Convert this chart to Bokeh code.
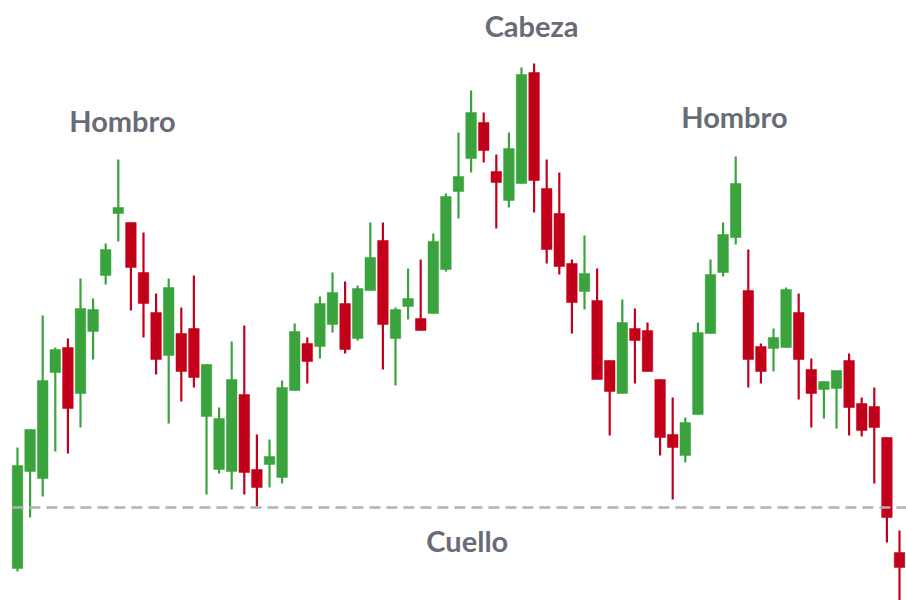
from bokeh.plotting import figure
from bokeh.models import Range1d, ColumnDataSource
from bokeh.core.properties import value
from bokeh.embed import file_html
from bokeh.resources import INLINE

# Candle data (price units)
opens = [3.2, 12.9, 12.2, 22.8, 25.3, 20.7, 26.9, 32.5, 38.7, 37.8,
         32.8, 28.8, 24.5, 26.7, 27.2, 18.4, 13.1, 12.9, 20.6, 13.1,
         13.6, 12.3, 21.0, 25.7, 25.4, 27.6, 29.7, 26.2, 31.0, 36.0,
         26.2, 29.4, 28.2, 28.7, 33.1, 40.9, 44.2, 47.8, 42.9, 40.0,
         41.7, 52.8, 41.2, 38.7, 33.7, 30.9, 30.0, 24.0, 20.7, 27.2,
         27.0, 22.1, 16.6, 14.5, 18.6, 26.7, 32.8, 36.3, 31.0, 25.4,
         25.2, 25.3, 28.8, 23.1, 21.1, 21.2, 24.0, 19.7, 19.4, 16.3, 4.8]
highs = [15.3, 17.1, 28.5, 25.3, 26.2, 32.2, 30.2, 35.7, 44.1, 37.8,
         36.8, 30.7, 32.2, 29.3, 32.5, 23.6, 19.3, 25.9, 27.5, 16.6,
         16.1, 22.0, 27.7, 26.3, 30.4, 32.8, 31.9, 31.5, 37.8, 37.8,
         29.3, 33.2, 34.1, 36.7, 40.7, 46.8, 51.0, 48.8, 44.6, 46.8,
         53.3, 53.7, 44.1, 42.8, 34.1, 36.5, 33.2, 24.0, 30.1, 29.2,
         27.8, 22.1, 20.3, 18.3, 27.8, 34.1, 37.8, 44.4, 35.1, 25.7,
         27.2, 31.3, 30.7, 24.2, 21.9, 23.0, 24.7, 20.3, 21.3, 16.3, 7.0]
lows = [2.9, 8.3, 10.4, 14.9, 14.7, 17.3, 24.1, 31.6, 35.9, 29.0,
        26.3, 22.6, 17.7, 19.9, 21.3, 10.6, 12.7, 11.1, 10.6, 9.4,
        11.3, 11.7, 21.0, 21.7, 24.2, 26.8, 24.7, 26.0, 31.0, 23.1,
        21.5, 28.1, 27.0, 28.7, 32.9, 38.2, 42.8, 43.8, 37.2, 39.3,
        41.7, 38.8, 33.7, 32.6, 26.7, 29.1, 22.1, 16.5, 20.7, 21.7,
        22.9, 14.5, 10.1, 13.8, 18.6, 26.7, 32.4, 35.6, 21.3, 21.7,
        22.9, 25.3, 20.1, 17.3, 18.2, 17.2, 16.5, 16.4, 11.7, 5.8, -0.5]
closes = [13.5, 17.1, 22.0, 25.1, 19.2, 29.2, 29.1, 35.1, 39.3, 33.3,
          29.7, 24.1, 31.3, 22.9, 22.3, 23.6, 18.2, 22.1, 12.8, 11.3,
          14.4, 21.3, 26.9, 23.9, 29.7, 30.8, 25.1, 31.2, 34.3, 27.6,
          29.1, 30.2, 27.0, 35.9, 40.4, 42.4, 48.8, 45.0, 41.8, 45.2,
          52.6, 42.0, 35.1, 33.4, 29.8, 32.7, 22.1, 20.9, 27.8, 26.0,
          22.9, 16.3, 15.3, 17.8, 26.8, 32.6, 36.6, 41.7, 24.1, 22.9,
          26.3, 31.1, 24.1, 20.7, 21.9, 23.0, 19.3, 17.0, 17.3, 8.3, 3.3]

neckline = 9.3
labels = ["Hombro", "Cabeza", "Hombro", "Cuello"]
label_x = [8.33, 40.8, 56.9, 35.7]
label_y = [48.0, 57.5, 48.4, 6.0]

GREEN = "#3BA33E"
RED = "#C3001A"

idx = list(range(len(opens)))
colors = [GREEN if c >= o else RED for o, c in zip(opens, closes)]
tops = [max(o, c) for o, c in zip(opens, closes)]
bots = [min(o, c) for o, c in zip(opens, closes)]
bots = [b if t - b > 0.15 else t - 0.15 for t, b in zip(tops, bots)]

src = ColumnDataSource(dict(x=idx, top=tops, bottom=bots, high=highs, low=lows, color=colors))

W, H = 906, 600
step = 12.6
x0 = -17 / step
p = figure(width=W, height=H, output_backend="svg", toolbar_location=None,
           x_range=Range1d(x0, x0 + W / step), y_range=Range1d(0.0, 60.0),
           min_border=0, outline_line_color=None, background_fill_color="white",
           border_fill_color="white")
p.xaxis.visible = False
p.yaxis.visible = False
p.grid.visible = False

p.segment(x0="x", y0="high", x1="x", y1="low", color="color", line_width=2.2, source=src)
p.vbar(x="x", top="top", bottom="bottom", width=0.84, fill_color="color",
       line_color="color", line_width=0.5, source=src)

p.segment(x0=[-0.4], y0=[neckline], x1=[80], y1=[neckline], line_color="#B0B2B8",
          line_width=2.6, line_dash="11 6")

p.text(x=label_x, y=label_y, text=labels, text_align="center", text_baseline="alphabetic",
       text_font=value("Lato"), text_font_style="bold", text_font_size="29px",
       text_color="#686C77")

open("out.html", "w").write(file_html(p, INLINE))
